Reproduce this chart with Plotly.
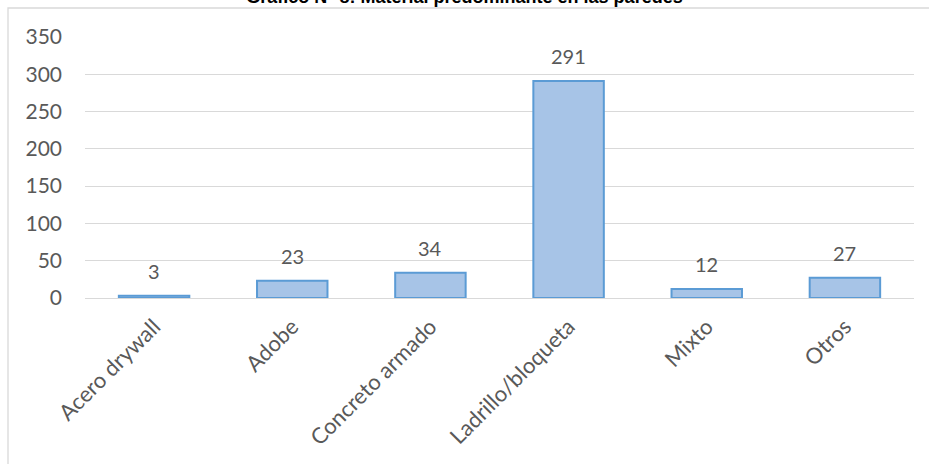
import plotly.graph_objects as go

categories = ["Acero drywall", "Adobe", "Concreto armado", "Ladrillo/bloqueta", "Mixto", "Otros"]
values = [3, 23, 34, 291, 12, 27]
y_ticks = [0, 50, 100, 150, 200, 250, 300, 350]
title_text = "Gráfico N° 8: Material predominante en las paredes"

W, H = 929, 464
ml, mr, mt, mb = 85, 15, 37, 166
FONT = "Lato, Noto Sans, sans-serif"

fig = go.Figure()
fig.add_trace(go.Bar(
    x=categories, y=values,
    marker=dict(color="#a7c4e7", line=dict(color="#5b9bd5", width=2)),
    cliponaxis=False,
))

for c, v in zip(categories, values):
    fig.add_annotation(x=c, y=v, text=str(v), showarrow=False, yanchor="bottom",
                       yshift=11, font=dict(family=FONT, size=20, color="#595959"))

# outer chart border
fig.add_shape(type="rect", xref="paper", yref="paper",
              x0=(8 - ml) / (W - ml - mr), x1=(W + 5 - ml) / (W - ml - mr),
              y0=-(H + 5 - (H - mb)) / (H - mt - mb), y1=1 + (mt - 8) / (H - mt - mb),
              line=dict(color="#d9d9d9", width=1.3), layer="below")

fig.update_layout(
    width=W, height=H,
    margin=dict(l=ml, r=mr, t=mt, b=mb, pad=0),
    paper_bgcolor="white", plot_bgcolor="white",
    bargap=0.49,
    showlegend=False,
    title=dict(text=title_text, x=0.5, xanchor="center", xref="container",
               yref="container", y=1 - 3 / H, yanchor="bottom",
               font=dict(family="Liberation Sans, Arial, sans-serif", size=18, color="black", weight="bold")),
    font=dict(family=FONT, color="#595959"),
)
fig.update_yaxes(range=[0, 350], tickvals=y_ticks, showgrid=True, gridcolor="#d9d9d9", gridwidth=1.3,
                 zeroline=True, zerolinecolor="#d9d9d9", zerolinewidth=1.3,
                 showline=False, ticks="", ticklabelstandoff=22,
                 tickfont=dict(size=21, color="#595959"))
fig.update_xaxes(showgrid=False, showline=True, linecolor="#d9d9d9", linewidth=1.3, ticks="",
                 tickangle=-45, tickfont=dict(size=22, color="#595959"), ticklabelstandoff=6)

fig.write_html("out.html")
